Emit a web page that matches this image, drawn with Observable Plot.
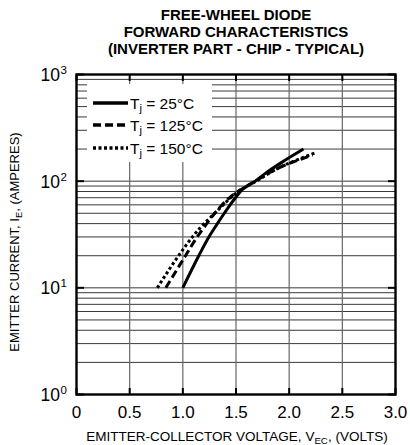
<!DOCTYPE html>
<html><head><meta charset="utf-8">
<script src="https://cdn.jsdelivr.net/npm/d3@7"></script>
<script src="https://cdn.jsdelivr.net/npm/@observablehq/plot@0.6"></script>
<style>
body{margin:0;background:#fff;}
svg{display:block;}
</style>
</head><body><div id="chart"></div>
<script>
const titleLines = ["FREE-WHEEL DIODE", "FORWARD CHARACTERISTICS", "(INVERTER PART - CHIP - TYPICAL)"];
const xLabel = "EMITTER-COLLECTOR VOLTAGE, V_{EC}, (VOLTS)";
const yLabel = "EMITTER CURRENT, I_{E}, (AMPERES)";
const xTicks = [0, 0.5, 1.0, 1.5, 2.0, 2.5, 3.0];
const xTickLabels = ["0", "0.5", "1.0", "1.5", "2.0", "2.5", "3.0"];
const yDecades = [1, 10, 100, 1000];
const yExponents = ["0", "1", "2", "3"];
const seriesNames = ["T_{j} = 25°C", "T_{j} = 125°C", "T_{j} = 150°C"];

const v25  = [1.00, 1.15, 1.245, 1.325, 1.39, 1.445, 1.495, 1.57, 1.68, 1.77, 1.93, 2.135];
const i25  = [10,   20,   30,    40,    50,   60,    70,    85,   100,  117,  150,  200];
const v125 = [0.84, 1.025, 1.135, 1.225, 1.30, 1.37, 1.44, 1.56, 1.68, 1.80, 1.95, 2.08, 2.22];
const i125 = [10,   20,    30,    40,    50,   60,   70,   85,   100,  118,  140,  157,  175];
const v150 = [0.76, 0.96, 1.09, 1.20, 1.30, 1.38, 1.45, 1.56, 1.69, 1.82, 1.96, 2.10, 2.25];
const i150 = [10,   20,   30,   40,   50,   60,   70,   85,   100,  120,  142,  162,  185];

const series = [
  {name: seriesNames[0], v: v25, i: i25, dash: null},
  {name: seriesNames[1], v: v125, i: i125, dash: "8,4"},
  {name: seriesNames[2], v: v150, i: i150, dash: "3,2.5"}
];
const rows = series.map(s => s.v.map((v, k) => ({v, i: s.i[k], series: s.name})));

const yGrid = [];
for (const d of [1, 10, 100]) for (let m = 1; m <= 9; m++) if (d * m > 1) yGrid.push(d * m);

const font = "'Liberation Sans', Arial, Helvetica, sans-serif";

const plot = Plot.plot({
  width: 410, height: 445,
  marginTop: 74, marginBottom: 51, marginLeft: 76, marginRight: 15,
  style: {fontFamily: font, background: "#fff", color: "#000", overflow: "visible"},
  x: {domain: [0, 3], axis: null},
  y: {type: "log", domain: [1, 1000], axis: null},
  marks: [
    Plot.ruleY(yGrid, {stroke: "#222", strokeWidth: 0.9}),
    Plot.ruleX(xTicks.slice(1, -1), {stroke: "#666", strokeWidth: 1.2}),
    ...series.map((s, k) => Plot.line(rows[k], {
      x: "v", y: "i", curve: "monotone-y", stroke: "#000", strokeWidth: 3,
      strokeDasharray: s.dash, strokeLinecap: "butt", strokeLinejoin: "round"
    })),
    Plot.axisX(xTicks, {anchor: "bottom", tickSize: -6, strokeWidth: 2, tickFormat: () => "", label: null}),
    Plot.axisX(xTicks, {anchor: "top", tickSize: -6, strokeWidth: 2, tickFormat: () => "", label: null}),
    Plot.axisY(yDecades, {anchor: "left", tickSize: -8, strokeWidth: 2, tickFormat: () => "", label: null}),
    Plot.axisY(yDecades, {anchor: "right", tickSize: -8, strokeWidth: 2, tickFormat: () => "", label: null}),
    Plot.frame({stroke: "#000", strokeWidth: 2.4}),
    Plot.text(xTicks, {x: d => d, text: (d, k) => xTickLabels[k], frameAnchor: "bottom", lineAnchor: "bottom", dy: 23, fontSize: 17, fill: "#000"}),
    Plot.text(yDecades, {y: d => d, text: () => "10", frameAnchor: "left", textAnchor: "end", lineAnchor: "bottom", dx: -16.5, dy: 6.5, fontSize: 17.5, fill: "#000"}),
    Plot.text(yDecades, {y: d => d, text: (d, k) => yExponents[k], frameAnchor: "left", textAnchor: "start", lineAnchor: "bottom", dx: -16, dy: -0.5, fontSize: 11.5, fill: "#000"}),
    Plot.text([xLabel], {frameAnchor: "bottom", textAnchor: "middle", lineAnchor: "bottom", dx: 1, dy: 46, fontSize: 13.5, fill: "#000"}),
    Plot.text([yLabel], {frameAnchor: "left", textAnchor: "middle", lineAnchor: "bottom", rotate: -90, dx: -58, dy: 7.5, fontSize: 13, fill: "#000"}),
    ...titleLines.map((t, k) => Plot.text([t], {frameAnchor: "top", textAnchor: "middle", lineAnchor: "bottom", dy: -54.5 + k * 17, fontSize: 15, fontWeight: "bold", fill: "#000", letterSpacing: 0.85}))
  ]
});

document.getElementById("chart").appendChild(plot);

// Legend (inside frame, upper left)
const svg = d3.select(plot);
const lg = svg.append("g").attr("font-family", font).attr("text-anchor", "start");
lg.append("rect").attr("x", 87).attr("y", 84).attr("width", 125).attr("height", 78).attr("fill", "#fff");
const rowsY = [103, 125, 148];
series.forEach((s, k) => {
  lg.append("line").attr("x1", 93).attr("x2", 128).attr("y1", rowsY[k]).attr("y2", rowsY[k])
    .attr("stroke", "#000").attr("stroke-width", 3.4).attr("stroke-dasharray", s.dash);
  lg.append("text").attr("x", 130).attr("y", rowsY[k] + 5.5).attr("font-size", 15.5).attr("fill", "#000").text(s.name);
});
const gridNodes = plot.querySelectorAll("g[aria-label='rule']");
gridNodes[gridNodes.length - 1].after(lg.node());

// subscript markup -> tspans
plot.querySelectorAll("text").forEach(t => {
  const s = t.textContent;
  if (!s.includes("_{")) return;
  const parts = s.split(/_\{([^}]*)\}/);
  while (t.firstChild) t.removeChild(t.firstChild);
  parts.forEach((p, k) => {
    if (!p) return;
    const ts = document.createElementNS("http://www.w3.org/2000/svg", "tspan");
    ts.textContent = p;
    if (k % 2 === 1) { ts.setAttribute("baseline-shift", "-28%"); ts.setAttribute("font-size", "72%"); }
    t.appendChild(ts);
  });
});
</script>
</body></html>
